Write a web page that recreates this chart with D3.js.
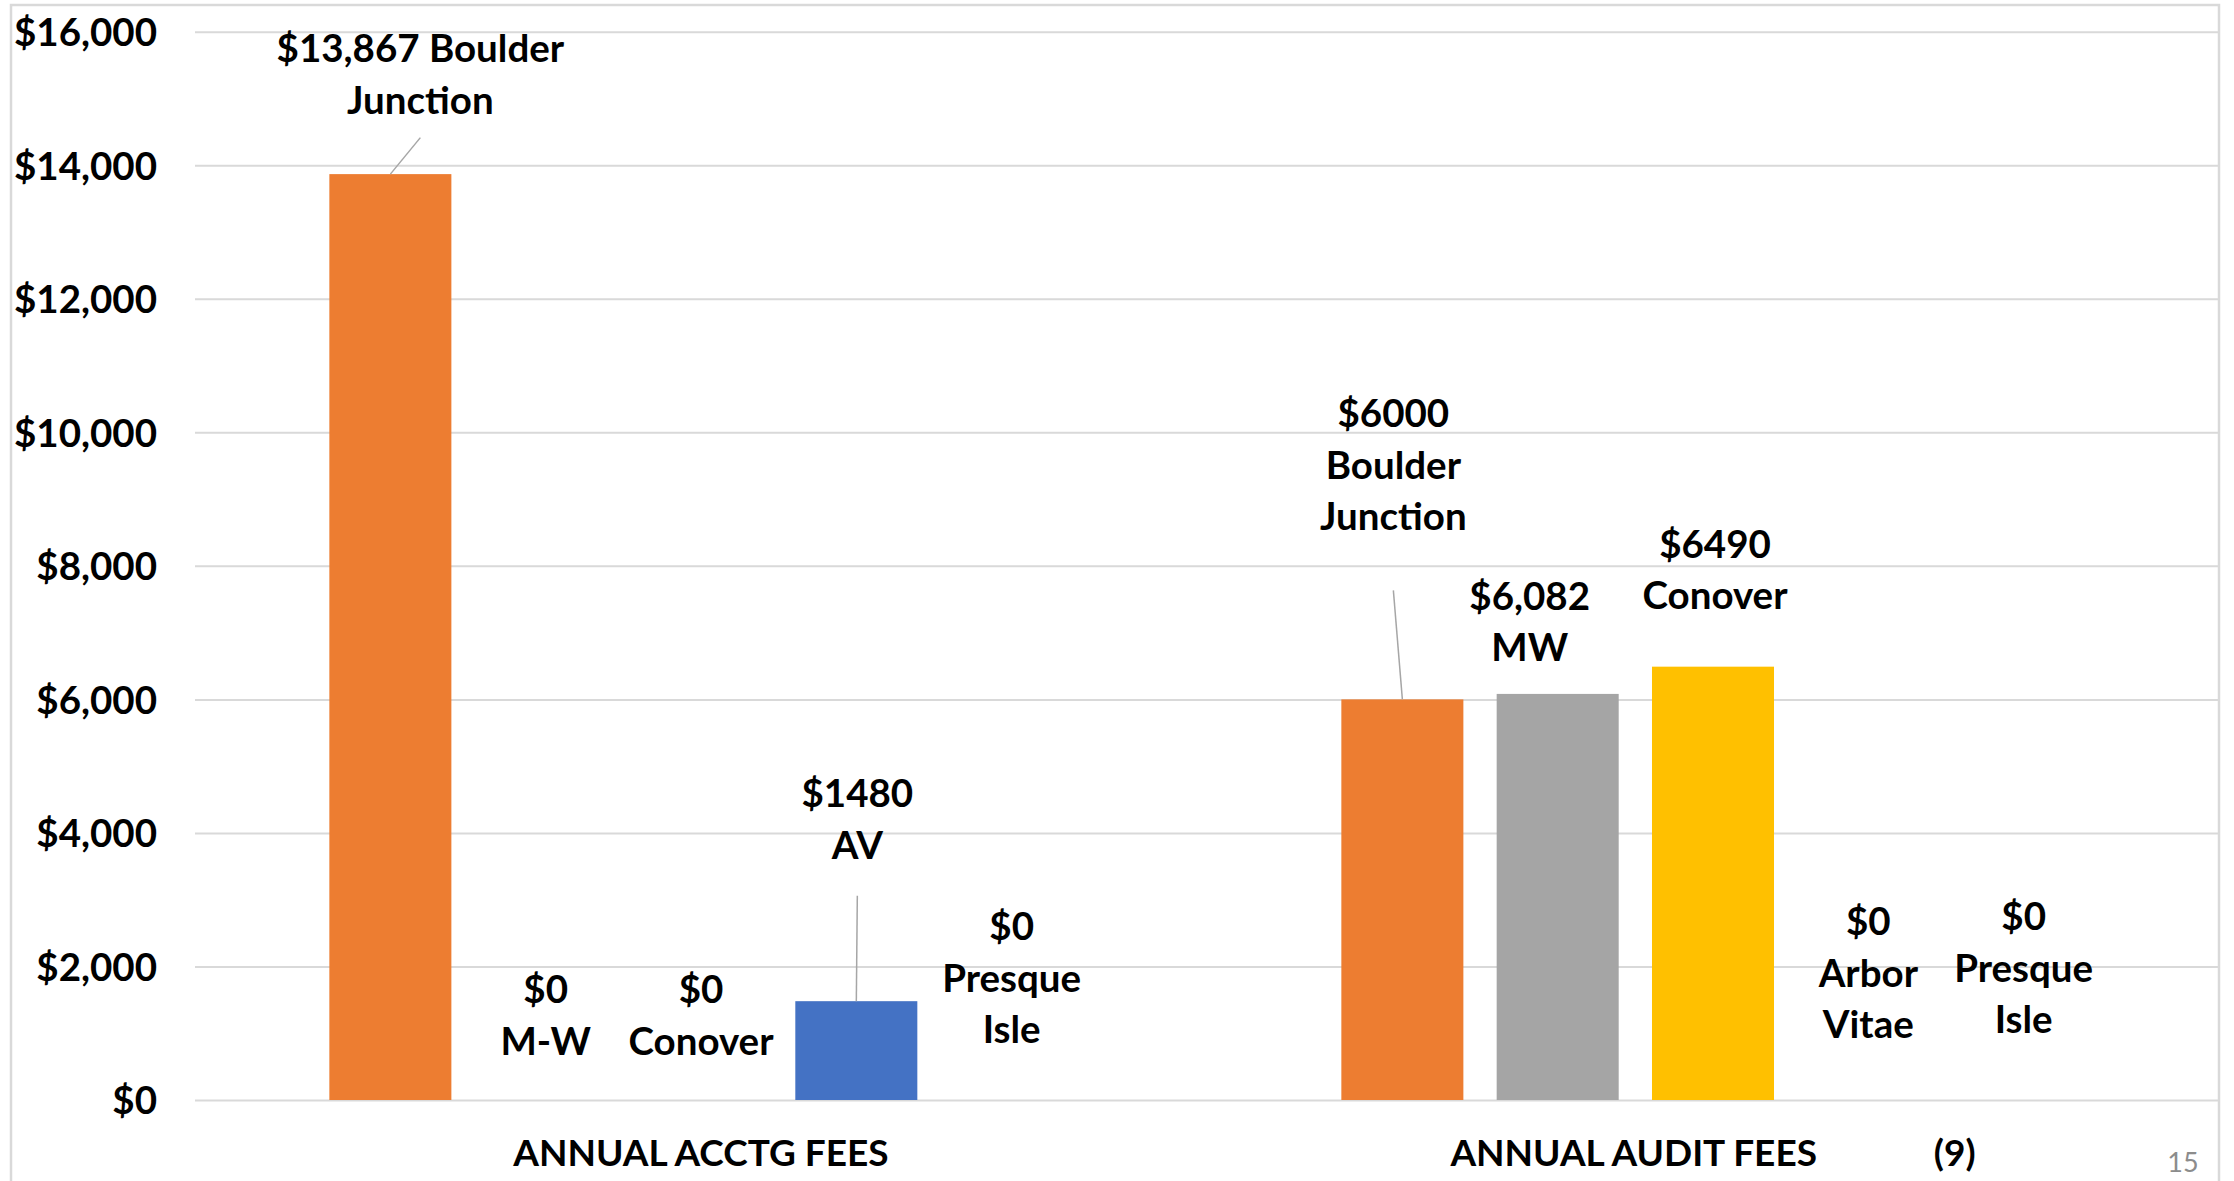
<!DOCTYPE html>
<html>
<head>
<meta charset="utf-8">
<script src="https://cdn.jsdelivr.net/npm/d3@7/dist/d3.min.js"></script>
<style>
  html, body { margin: 0; padding: 0; background: #ffffff; }
  svg { display: block; }
  text { font-family: Lato, "Open Sans", sans-serif; }
</style>
</head>
<body>
<svg id="chart" width="2234" height="1181"></svg>
<script>
// ---- data ----
const categories = ["ANNUAL ACCTG FEES", "ANNUAL AUDIT FEES             (9)"];
const seriesNames = ["Boulder Junction", "M-W", "Conover", "Arbor Vitae", "Presque Isle"];
const acctgFees = [13867, 0, 0, 1480, 0];
const auditFees = [6000, 6082, 6490, 0, 0];
const seriesColors = ["#ED7D31", "#A5A5A5", "#FFC000", "#4472C4", "#5B9BD5"];
const yTicks = [0, 2000, 4000, 6000, 8000, 10000, 12000, 14000, 16000];
const acctgLabels = [
  ["$13,867 Boulder", "Junction"],
  ["$0", "M-W"],
  ["$0", "Conover"],
  ["$1480", "AV"],
  ["$0", "Presque", "Isle"]
];
const auditLabels = [
  ["$6000", "Boulder", "Junction"],
  ["$6,082", "MW"],
  ["$6490", "Conover"],
  ["$0", "Arbor", "Vitae"],
  ["$0", "Presque", "Isle"]
];
const pageNumber = "15";

// ---- layout ----
const W = 2234, H = 1181;
const plot = { left: 195, right: 2219, top: 31.7, bottom: 1100 };
const lineStep = 51.5;
const labelSize = 38.5;
// label nudges (px) from the bar's top-centre: first-line baseline offset, and optional leader gap
const acctgLabelPos = [
  { dx: 30, dy: -112, leader: 24 },
  { dx: 0, dy: -97 },
  { dx: 0, dy: -97 },
  { dx: 1, dy: -194, leader: 37 },
  { dx: 0, dy: -160 }
];
const auditLabelPos = [
  { dx: -9, dy: -272, leader: 60 },
  { dx: -28, dy: -84 },
  { dx: 2, dy: -109 },
  { dx: 0, dy: -165 },
  { dx: 0, dy: -170 }
];

const svg = d3.select("#chart");
svg.append("rect").attr("width", W).attr("height", H).attr("fill", "#ffffff");

// outer frame
svg.append("rect")
  .attr("x", 11).attr("y", 5)
  .attr("width", 2208).attr("height", 1250)
  .attr("fill", "none").attr("stroke", "#d9d9d9").attr("stroke-width", 2.5);

const x0 = d3.scaleBand().domain(categories).range([plot.left, plot.right]).padding(0);
const x1 = d3.scaleBand().domain(seriesNames).range([0, x0.bandwidth()])
  .paddingInner(0.2144).paddingOuter(0.865);
const y = d3.scaleLinear().domain([0, 16000]).range([plot.bottom, plot.top]);
const color = d3.scaleOrdinal().domain(seriesNames).range(seriesColors);

// value axis with gridlines
const yAxis = svg.append("g")
  .attr("transform", `translate(${plot.left},0)`)
  .call(d3.axisLeft(y).tickValues(yTicks).tickSize(-(plot.right - plot.left))
    .tickPadding(38).tickFormat(d3.format("$,")));
yAxis.select(".domain").remove();
yAxis.selectAll(".tick line").attr("stroke", "#d9d9d9").attr("stroke-width", 2);
yAxis.selectAll(".tick text")
  .attr("font-size", 38.5).attr("font-weight", 700).attr("fill", "#000")
  .attr("dy", "0.36em");

// category axis
const xAxis = svg.append("g")
  .attr("transform", `translate(0,${plot.bottom})`)
  .call(d3.axisBottom(x0).tickSize(0));
xAxis.select(".domain").remove();
xAxis.selectAll(".tick text")
  .attr("y", 66).attr("dy", 0)
  .attr("font-size", 37).attr("font-weight", 700).attr("fill", "#000")
  .style("white-space", "pre");

// bars
const rows = categories.map((c, ci) => {
  const vals = ci === 0 ? acctgFees : auditFees;
  const labs = ci === 0 ? acctgLabels : auditLabels;
  const pos = ci === 0 ? acctgLabelPos : auditLabelPos;
  return seriesNames.map((s, si) => ({ cat: c, series: s, value: vals[si], lines: labs[si], pos: pos[si] }));
});

const groups = svg.append("g").selectAll("g.cat")
  .data(rows).join("g")
  .attr("class", "cat")
  .attr("transform", d => `translate(${x0(d[0].cat)},0)`);

groups.selectAll("rect.bar")
  .data(d => d).join("rect")
  .attr("class", "bar")
  .attr("x", d => x1(d.series))
  .attr("width", x1.bandwidth())
  .attr("y", d => y(d.value))
  .attr("height", d => y(0) - y(d.value))
  .attr("fill", d => color(d.series));

// leader lines
groups.selectAll("line.leader")
  .data(d => d.filter(r => r.pos.leader !== undefined)).join("line")
  .attr("class", "leader")
  .attr("x1", d => x1(d.series) + x1.bandwidth() / 2 + d.pos.dx)
  .attr("y1", d => y(d.value) + d.pos.dy + (d.lines.length - 1) * lineStep + d.pos.leader)
  .attr("x2", d => x1(d.series) + x1.bandwidth() / 2)
  .attr("y2", d => y(d.value))
  .attr("stroke", "#a6a6a6").attr("stroke-width", 1.5);

// data labels
const labels = groups.selectAll("text.dl")
  .data(d => d).join("text")
  .attr("class", "dl")
  .attr("text-anchor", "middle")
  .attr("font-size", labelSize).attr("font-weight", 700).attr("fill", "#000")
  .attr("transform", d => `translate(${x1(d.series) + x1.bandwidth() / 2 + d.pos.dx},${y(d.value) + d.pos.dy})`);

labels.selectAll("tspan")
  .data(d => d.lines).join("tspan")
  .attr("x", 0)
  .attr("y", (t, i) => i * lineStep)
  .text(t => t);

// slide number
svg.append("text")
  .attr("x", 2183).attr("y", 1172)
  .attr("text-anchor", "middle")
  .attr("font-size", 27).attr("fill", "#8c8c8c")
  .text(pageNumber);
</script>
</body>
</html>
